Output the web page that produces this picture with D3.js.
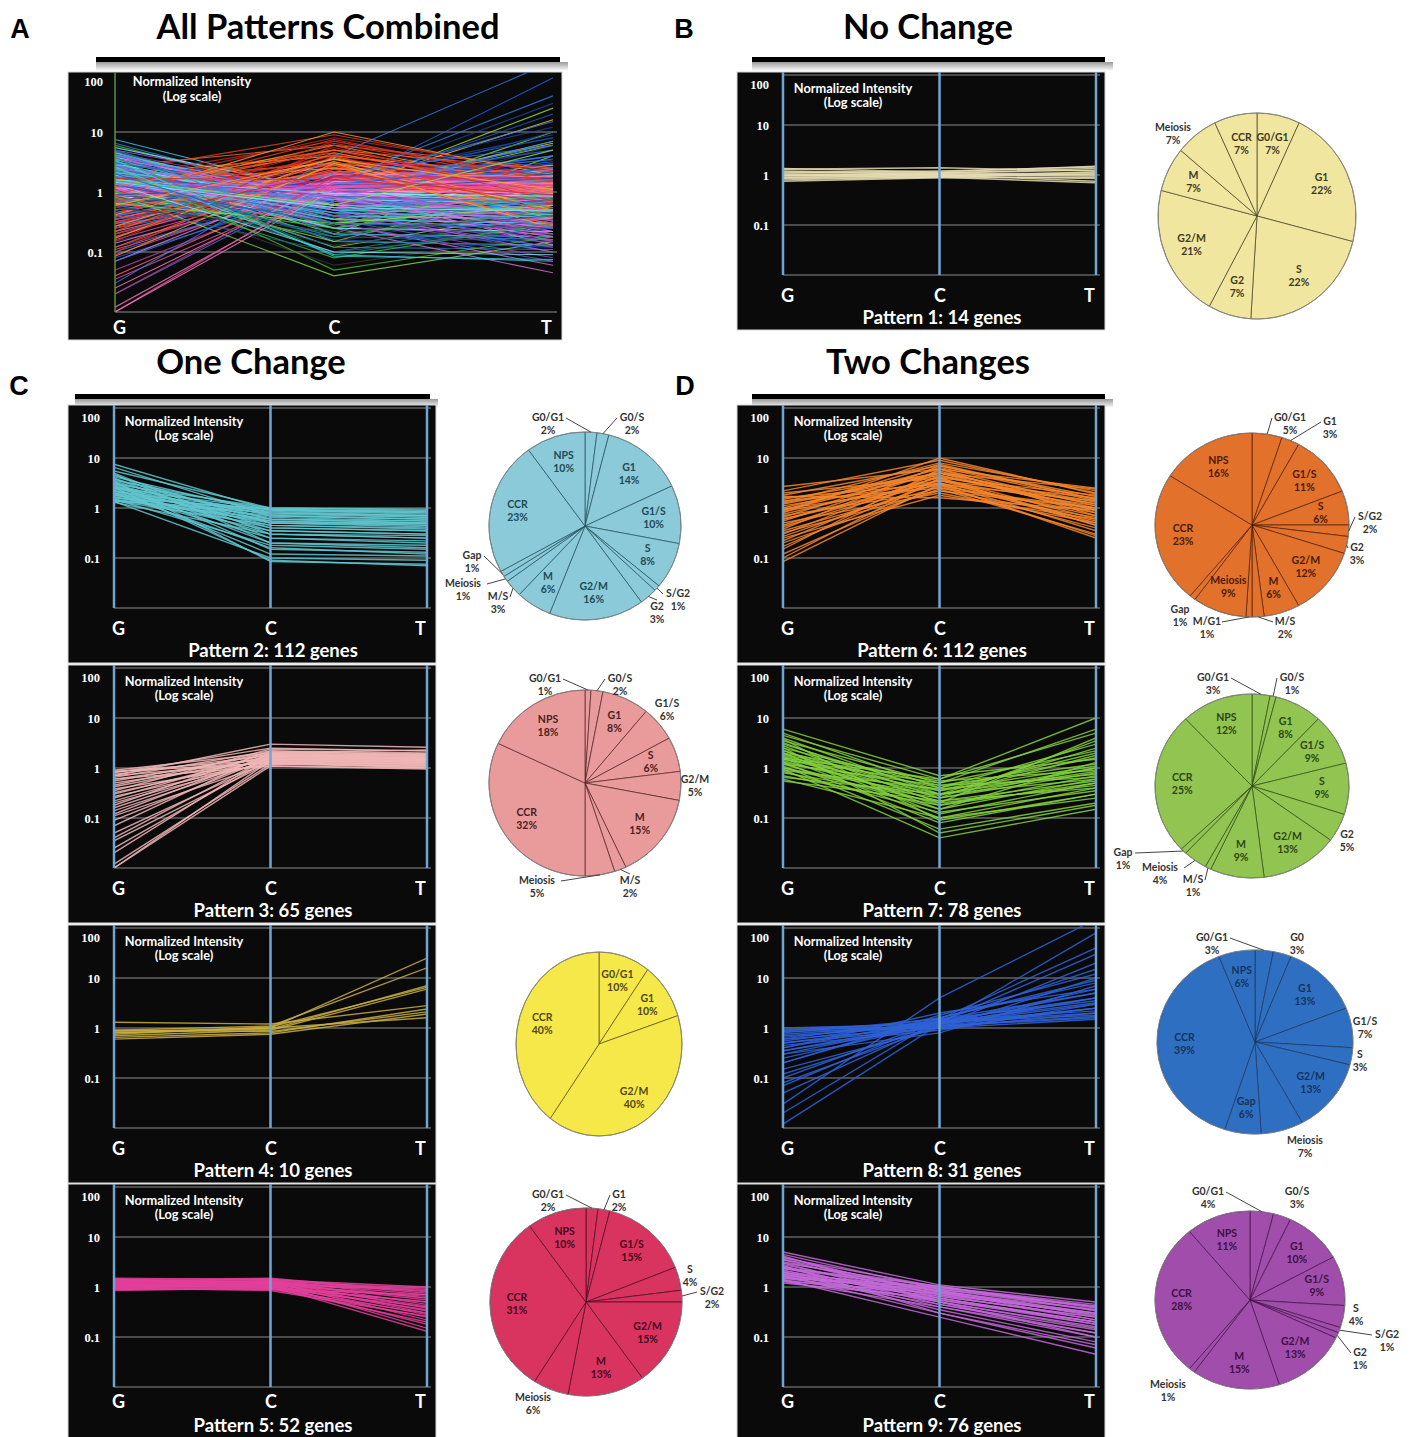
<!DOCTYPE html>
<html>
<head>
<meta charset="utf-8">
<script src="https://cdn.jsdelivr.net/npm/d3@7"></script>
<style>
  body { margin: 0; background: #fff; }
  svg { display: block; }
</style>
</head>
<body>
<svg id="figure" width="1412" height="1437"></svg>
<script>
// Conditions along the x axis
const stages = ['G', 'C', 'T']
// Log-scale tick labels on every profile
const intensityTicks = [100, 10, 1, 0.1]
// Genes in each pattern
const geneCounts = [14, 112, 65, 10, 52, 112, 78, 31, 76]

// Gene profiles, one [G, C, T] triple per drawn gene
const pattern1Genes = [
  [1.35, 1.15, 1.5], [1.3, 1.4, 1.2], [1.2, 1.1, 1.35], [1.15, 1.05, 1.1], [1.1, 1.2, 1.45],
  [1.05, 1.0, 0.95], [1.0, 1.1, 1.25], [0.98, 0.95, 0.85], [0.95, 1.05, 1.0], [0.9, 0.95, 1.15],
  [0.88, 1.0, 0.75], [0.85, 0.9, 0.7], [0.8, 0.92, 1.05], [0.75, 0.88, 0.9]
]
const pattern2Genes = [
  [7.5, 0.9, 0.85], [6.5, 0.7, 0.6], [5.5, 1.0, 0.95], [5.0, 0.3, 0.25], [4.5, 0.5, 0.45],
  [4.2, 0.8, 0.7], [4.0, 0.25, 0.2], [3.8, 0.6, 0.55], [3.6, 0.9, 0.8], [3.5, 0.4, 0.35],
  [3.3, 0.15, 0.13], [3.2, 0.7, 0.6], [3.0, 0.5, 0.5], [3.0, 1.0, 0.9], [2.9, 0.35, 0.3],
  [2.8, 0.2, 0.18], [2.7, 0.8, 0.7], [2.6, 0.6, 0.5], [2.5, 0.45, 0.4], [2.5, 0.95, 0.8],
  [2.4, 0.3, 0.28], [2.3, 0.12, 0.11], [2.2, 0.75, 0.65], [2.2, 0.55, 0.45], [2.1, 0.9, 0.75],
  [2.0, 0.4, 0.35], [2.0, 0.65, 0.55], [1.9, 0.25, 0.22], [1.8, 0.85, 0.7], [1.8, 0.5, 0.42],
  [1.7, 0.35, 0.3], [1.6, 0.7, 0.6], [1.6, 0.95, 0.85], [1.5, 0.18, 0.15], [1.5, 0.6, 0.5],
  [1.4, 0.45, 0.38], [1.4, 0.8, 0.65], [1.35, 0.1, 0.09], [1.3, 0.3, 0.25], [3.4, 0.085, 0.075],
  [2.6, 0.09, 0.07], [4.8, 0.2, 0.16], [1.45, 0.55, 0.48], [2.0, 0.16, 0.12]
]
const pattern3Genes = [
  [0.9, 2.0, 1.8], [0.85, 1.5, 1.4], [0.8, 2.5, 2.2], [0.75, 1.8, 1.6], [0.7, 1.3, 1.2],
  [0.65, 2.2, 2.0], [0.6, 1.6, 1.5], [0.55, 1.9, 1.7], [0.5, 1.4, 1.3], [0.45, 2.1, 1.9],
  [0.42, 1.7, 1.5], [0.38, 1.2, 1.1], [0.35, 2.4, 2.2], [0.32, 1.5, 1.6], [0.3, 1.8, 1.5],
  [0.27, 1.3, 1.0], [0.25, 2.0, 2.3], [0.22, 1.6, 1.4], [0.2, 1.4, 1.2], [0.18, 2.2, 1.8],
  [0.16, 1.7, 1.9], [0.14, 1.5, 1.3], [0.12, 1.9, 1.7], [0.11, 1.25, 1.1], [0.09, 1.6, 1.5],
  [0.07, 2.0, 1.8], [0.05, 1.4, 1.3], [0.04, 1.7, 1.6], [0.035, 1.3, 1.2], [0.025, 1.5, 1.4],
  [0.02, 1.8, 1.6], [0.012, 1.2, 1.05], [0.01, 1.4, 1.3], [0.01, 1.1, 0.95], [0.7, 3.0, 2.6],
  [0.6, 1.1, 1.0], [0.85, 1.25, 1.15]
]
const pattern4Genes = [
  [0.85, 1.0, 25], [0.9, 1.1, 16], [0.8, 0.95, 7], [0.75, 1.05, 6.5], [0.7, 0.9, 6],
  [1.3, 1.2, 2.8], [0.65, 0.8, 2.4], [0.9, 0.85, 2.1], [0.6, 0.75, 1.9], [0.8, 1.0, 1.6]
]
const pattern5Genes = [
  [1.5, 1.4, 1.0], [1.45, 1.2, 0.9], [1.4, 1.5, 0.8], [1.35, 1.3, 0.7], [1.3, 1.1, 0.65],
  [1.3, 1.4, 0.6], [1.25, 1.25, 0.55], [1.2, 1.0, 0.5], [1.2, 1.35, 0.45], [1.15, 1.15, 0.42],
  [1.1, 0.95, 0.4], [1.1, 1.3, 0.38], [1.05, 1.05, 0.35], [1.0, 1.2, 0.33], [1.0, 0.9, 0.3],
  [0.95, 1.1, 0.28], [0.95, 0.85, 0.26], [0.9, 1.0, 0.25], [0.9, 1.25, 0.22], [0.85, 0.95, 0.2],
  [1.25, 1.1, 0.18], [1.1, 1.2, 0.15], [1.0, 1.05, 0.13], [1.3, 1.45, 0.75], [1.4, 1.2, 0.6],
  [1.15, 1.0, 0.5], [1.2, 1.3, 0.95], [1.05, 1.15, 0.85], [0.9, 0.9, 0.7], [1.35, 1.25, 0.3]
]
const pattern6Genes = [
  [2.7, 6, 2.5], [2.2, 9, 2.0], [2.0, 4, 1.8], [1.8, 7, 1.5], [1.6, 3, 1.4],
  [1.5, 5, 1.2], [1.4, 2.5, 1.0], [1.3, 8, 2.2], [1.2, 4.5, 0.9], [1.1, 3.5, 1.6],
  [1.0, 6, 1.1], [0.95, 2.8, 0.8], [0.9, 5, 1.3], [0.85, 3.2, 0.7], [0.8, 10, 1.9],
  [0.75, 4, 0.6], [0.7, 2.2, 1.0], [0.65, 6.5, 1.4], [0.6, 3, 0.55], [0.55, 5.5, 0.9],
  [0.5, 2, 0.5], [0.45, 4.2, 1.2], [0.42, 3.6, 0.45], [0.38, 7, 1.7], [0.35, 2.6, 0.4],
  [0.3, 5, 0.8], [0.27, 3.2, 0.35], [0.25, 1.8, 0.6], [0.22, 4.5, 1.0], [0.2, 2.4, 0.3],
  [0.17, 3.8, 0.5], [0.15, 6, 0.7], [0.12, 2.8, 0.28], [0.1, 4, 0.45], [0.085, 3, 0.25],
  [1.7, 1.6, 0.9], [1.25, 5, 2.4], [0.9, 7.5, 1.5], [0.6, 3.5, 1.1], [0.32, 2.2, 0.65]
]
const pattern7Genes = [
  [6, 0.7, 1.5], [5, 0.4, 3], [4.5, 0.6, 10], [4, 0.3, 1.0], [3.5, 0.5, 6],
  [3.2, 0.25, 0.8], [3, 0.35, 2], [2.8, 0.2, 4], [2.5, 0.45, 1.2], [2.3, 0.15, 0.6],
  [2.2, 0.3, 2.5], [2, 0.55, 0.9], [2, 0.12, 0.5], [1.9, 0.4, 1.6], [1.8, 0.25, 3.5],
  [1.7, 0.18, 0.7], [1.6, 0.1, 0.4], [1.5, 0.35, 1.1], [1.5, 0.5, 2.2], [1.4, 0.22, 0.55],
  [1.3, 0.08, 0.3], [1.3, 0.3, 0.85], [1.2, 0.15, 1.3], [1.2, 0.45, 0.65], [1.1, 0.06, 0.2],
  [1.0, 0.28, 1.8], [1.0, 0.2, 0.45], [0.95, 0.04, 0.15], [0.9, 0.38, 0.75], [0.85, 0.13, 0.35],
  [0.8, 0.25, 1.0], [0.7, 0.18, 0.5], [0.65, 0.3, 0.6], [0.6, 0.1, 0.25], [0.55, 0.22, 0.4],
  [2.6, 0.05, 0.18], [3.8, 0.09, 0.3], [1.6, 0.6, 5]
]
const pattern8Genes = [
  [0.012, 1.2, 80], [0.02, 1.5, 40], [0.05, 1.3, 30], [0.08, 1.1, 20], [0.1, 1.4, 15],
  [0.15, 1.0, 10], [0.2, 1.6, 8], [0.25, 1.2, 6], [0.3, 1.3, 5], [0.35, 1.1, 4],
  [0.4, 1.5, 3.5], [0.45, 0.9, 3], [0.5, 1.2, 2.5], [0.55, 1.4, 2.2], [0.6, 1.0, 2],
  [0.65, 1.3, 1.8], [0.7, 1.1, 1.6], [0.75, 1.2, 3], [0.8, 1.5, 5], [0.85, 1.0, 2.5],
  [0.9, 1.3, 2], [1.0, 1.2, 4], [0.3, 0.8, 7], [0.2, 1.8, 12], [0.12, 1.1, 2.5],
  [0.4, 2.0, 6], [0.6, 1.6, 9], [0.5, 1.0, 1.5], [0.07, 1.4, 4], [0.9, 1.1, 1.7],
  [0.35, 1.3, 3.2], [0.03, 4, 150]
]
const pattern9Genes = [
  [5, 1.1, 0.5], [4.5, 0.9, 0.4], [4, 0.7, 0.3], [3.8, 1.0, 0.45], [3.5, 0.6, 0.2],
  [3.2, 0.8, 0.35], [3, 0.5, 0.15], [3, 1.0, 0.4], [2.8, 0.65, 0.25], [2.6, 0.45, 0.12],
  [2.5, 0.85, 0.3], [2.4, 0.55, 0.18], [2.3, 0.95, 0.42], [2.2, 0.4, 0.1], [2.1, 0.75, 0.28],
  [2, 0.6, 0.2], [2, 0.35, 0.08], [1.9, 0.9, 0.35], [1.8, 0.5, 0.16], [1.8, 0.7, 0.22],
  [1.7, 0.3, 0.06], [1.6, 0.8, 0.3], [1.6, 0.45, 0.14], [1.5, 0.65, 0.25], [1.5, 1.0, 0.38],
  [1.4, 0.55, 0.2], [1.4, 0.25, 0.045], [1.3, 0.75, 0.28], [1.3, 0.4, 0.12], [1.2, 0.6, 0.18],
  [4.2, 0.5, 0.1], [2.7, 0.3, 0.07], [3.6, 0.8, 0.22], [2.4, 1.05, 0.33], [1.7, 0.85, 0.26]
]

// Cell-cycle phase shares per pattern (%), clockwise from 12 o'clock
const pattern1Pie = [['G0/G1', 7], ['G1', 22], ['S', 22], ['G2', 7], ['G2/M', 21], ['M', 7], ['Meiosis', 7], ['CCR', 7]]
const pattern2Pie = [['G0/G1', 2], ['G0/S', 2], ['G1', 14], ['G1/S', 10], ['S', 8], ['S/G2', 1], ['G2', 3], ['G2/M', 16], ['M', 6], ['M/S', 3], ['Meiosis', 1], ['Gap', 1], ['CCR', 23], ['NPS', 10]]
const pattern3Pie = [['G0/G1', 1], ['G0/S', 2], ['G1', 8], ['G1/S', 6], ['S', 6], ['G2/M', 5], ['M', 15], ['M/S', 2], ['Meiosis', 5], ['CCR', 32], ['NPS', 18]]
const pattern4Pie = [['G0/G1', 10], ['G1', 10], ['G2/M', 40], ['CCR', 40]]
const pattern5Pie = [['G0/G1', 2], ['G1', 2], ['G1/S', 15], ['S', 4], ['S/G2', 2], ['G2/M', 15], ['M', 13], ['Meiosis', 6], ['CCR', 31], ['NPS', 10]]
const pattern6Pie = [['G0/G1', 5], ['G1', 3], ['G1/S', 11], ['S', 6], ['S/G2', 2], ['G2', 3], ['G2/M', 12], ['M', 6], ['M/S', 2], ['M/G1', 1], ['Meiosis', 9], ['Gap', 1], ['CCR', 23], ['NPS', 16]]
const pattern7Pie = [['G0/G1', 3], ['G0/S', 1], ['G1', 8], ['G1/S', 9], ['S', 9], ['G2', 5], ['G2/M', 13], ['M', 9], ['M/S', 1], ['Meiosis', 4], ['Gap', 1], ['CCR', 25], ['NPS', 12]]
const pattern8Pie = [['G0/G1', 3], ['G0', 3], ['G1', 13], ['G1/S', 7], ['S', 3], ['G2/M', 13], ['Meiosis', 7], ['Gap', 6], ['CCR', 39], ['NPS', 6]]
const pattern9Pie = [['G0/G1', 4], ['G0/S', 3], ['G1', 10], ['G1/S', 9], ['S', 4], ['S/G2', 1], ['G2', 1], ['G2/M', 13], ['M', 15], ['Meiosis', 1], ['CCR', 28], ['NPS', 11]]

const FONT = 'Lato, "Open Sans", sans-serif'
const svg = d3.select('#figure')

// Panel letters, titles and the rules under the titles
const letters = [['A', 20, 38], ['B', 684, 38], ['C', 19, 395], ['D', 685, 395]]
svg.selectAll('text.letter').data(letters).join('text')
  .attr('class', 'letter')
  .attr('x', d => d[1]).attr('y', d => d[2])
  .attr('text-anchor', 'middle')
  .attr('font-family', '"Liberation Sans", Arial, sans-serif')
  .attr('font-weight', 'bold').attr('font-size', 27)
  .text(d => d[0])

const titles = [['All Patterns Combined', 328, 39], ['No Change', 928, 39], ['One Change', 251, 374], ['Two Changes', 928, 374]]
svg.selectAll('text.title').data(titles).join('text')
  .attr('class', 'title')
  .attr('x', d => d[1]).attr('y', d => d[2])
  .attr('text-anchor', 'middle')
  .attr('font-family', FONT).attr('font-weight', 'bold').attr('font-size', 34.5)
  .text(d => d[0])

const rules = [[96, 560, 57], [752, 1105, 57], [75, 430, 394], [752, 1105, 394]]
const defs = svg.append('defs')
const shade = defs.append('linearGradient').attr('id', 'rule-shade').attr('x1', 0).attr('x2', 0).attr('y1', 0).attr('y2', 1)
shade.append('stop').attr('offset', 0).attr('stop-color', '#9a9a9a')
shade.append('stop').attr('offset', 1).attr('stop-color', '#ffffff')
rules.forEach(([x1, x2, y]) => {
  svg.append('rect').attr('x', x1).attr('y', y + 5).attr('width', x2 - x1 + 8).attr('height', 9).attr('fill', 'url(#rule-shade)')
  svg.append('rect').attr('x', x1).attr('y', y).attr('width', x2 - x1).attr('height', 5).attr('fill', '#000')
})

// Draw one black profile panel
function drawProfile(spec) {
  const g = svg.append('g').attr('transform', `translate(${spec.x},${spec.y})`)
  g.append('rect').attr('width', spec.w).attr('height', spec.h).attr('fill', '#0a0a0a')
    .attr('stroke', '#d8d8d8').attr('stroke-width', 1)

  const x = d3.scalePoint().domain(stages).range([spec.gX, spec.tX])
  const y = d3.scaleLog().domain([0.01, 100]).range([spec.yBottom, spec.yTop])

  // horizontal gridlines
  g.selectAll('line.grid').data(spec.grid).join('line')
    .attr('x1', spec.gX).attr('x2', spec.tX + 4)
    .attr('y1', d => y(d)).attr('y2', d => y(d))
    .attr('stroke', '#8c8c8c').attr('stroke-width', 1)

  // gene profiles, clipped to the plot area
  const clipId = 'clip-' + spec.key
  defs.append('clipPath').attr('id', clipId).append('rect')
    .attr('x', spec.gX).attr('y', 0).attr('width', spec.tX - spec.gX).attr('height', spec.yBottom)
  const line = d3.line().x((d, i) => x(stages[i])).y(d => y(d))
  g.append('g')
    .attr('clip-path', `url(#${clipId})`)
    .selectAll('path').data(spec.lines).join('path')
    .attr('d', d => line(d.values))
    .attr('fill', 'none')
    .attr('stroke', d => d.color)
    .attr('stroke-width', spec.lw)
    .attr('stroke-opacity', spec.op)

  // stage verticals
  g.selectAll('line.stage').data(spec.verticals).join('line')
    .attr('x1', d => x(d)).attr('x2', d => x(d))
    .attr('y1', 0).attr('y2', spec.yBottom)
    .attr('stroke', spec.vColor).attr('stroke-width', spec.vWidth)

  // y tick labels
  g.append('g')
    .attr('transform', `translate(${spec.tickX},0)`)
    .call(d3.axisLeft(y).tickValues(intensityTicks).tickFormat(d => String(d)).tickSize(0).tickPadding(0))
    .call(a => a.select('.domain').remove())
    .call(a => a.selectAll('.tick text')
      .attr('fill', '#fff')
      .attr('font-family', '"Liberation Serif", "DejaVu Serif", serif')
      .attr('font-weight', 'bold').attr('font-size', 12.5)
      .attr('dy', d => d === 100 ? spec.topDy : '0.35em'))

  // x stage labels
  g.append('g')
    .attr('transform', `translate(0,${spec.stageY})`)
    .call(d3.axisBottom(x).tickSize(0).tickPadding(0))
    .call(a => a.select('.domain').remove())
    .call(a => a.selectAll('.tick text')
      .attr('fill', '#fff')
      .attr('font-family', FONT).attr('font-weight', 'bold').attr('font-size', 18)
      .attr('dy', '0.35em')
      .attr('dx', d => d === 'G' ? 4 : d === 'T' ? -7 : 0))

  // axis note
  g.append('text')
    .attr('x', spec.noteX).attr('y', spec.noteY[0])
    .attr('text-anchor', 'middle').attr('dominant-baseline', 'middle')
    .attr('fill', '#fff').attr('font-family', FONT).attr('font-weight', 'bold').attr('font-size', 12.8)
    .text('Normalized Intensity')
  g.append('text')
    .attr('x', spec.noteX).attr('y', spec.noteY[1])
    .attr('text-anchor', 'middle').attr('dominant-baseline', 'middle')
    .attr('fill', '#fff').attr('font-family', FONT).attr('font-weight', 'bold').attr('font-size', 12.8)
    .text('(Log scale)')

  if (spec.title) {
    g.append('text')
      .attr('x', spec.titleX).attr('y', spec.titleY)
      .attr('text-anchor', 'middle').attr('dominant-baseline', 'middle')
      .attr('fill', '#fff').attr('font-family', FONT).attr('font-weight', 'bold').attr('font-size', 18.5)
      .text(spec.title)
  }
}

// Panel A: every pattern together, coloured line by line
const allPatterns = [pattern1Genes, pattern2Genes, pattern3Genes, pattern4Genes, pattern5Genes,
  pattern6Genes, pattern7Genes, pattern8Genes, pattern9Genes]
const comboPalettes = [
  ['#f5efb0', '#ffffff'],
  ['#40c8f0', '#2f8fd8', '#7fe6ff', '#1c5fb0', '#3ad0c0'],
  ['#f050a8', '#ff80c8', '#d03070', '#ff6070'],
  ['#a0e040', '#f0d040'],
  ['#e050d0', '#ff7ad8', '#c040a0'],
  ['#ff6a20', '#e8402a', '#ffa030', '#d02828'],
  ['#40c040', '#2a9060', '#90e050', '#206090', '#3a3a3a'],
  ['#2060d8', '#3a80f0', '#1848a0'],
  ['#b060f0', '#8a48c8', '#e070e0']
]
const comboLines = []
const longest = d3.max(allPatterns, p => p.length)
for (let i = 0; i < longest; i++) {
  allPatterns.forEach((genes, p) => {
    if (i < genes.length) {
      const pal = comboPalettes[p]
      comboLines.push({ values: genes[i], color: pal[i % pal.length] })
    }
  })
}

drawProfile({
  key: 'all', x: 68, y: 72, w: 494, h: 268,
  gX: 47, tX: 485, yTop: 0, yBottom: 240,
  grid: [10, 1, 0.1, 0.01], lines: comboLines, lw: 1.1, op: 0.8,
  verticals: ['G'], vColor: '#5f8f3a', vWidth: 1.5,
  tickX: 35, topDy: '1.1em', stageY: 256,
  noteX: 124, noteY: [11, 26]
})

// Pattern panels
const lineColors = ['#e6ddb2', '#62c6cf', '#f0b6b6', '#c9ae44', '#e2409a', '#f5862e', '#84d13f', '#2f62d6', '#c36ad8']
const profilePlaces = [[737, 72], [68, 405], [68, 665], [68, 925], [68, 1184], [737, 405], [737, 665], [737, 925], [737, 1184]]
allPatterns.forEach((genes, i) => {
  const bottomRow = profilePlaces[i][1] > 1100
  drawProfile({
    key: 'p' + (i + 1), x: profilePlaces[i][0], y: profilePlaces[i][1], w: 368, h: 258,
    gX: 46, tX: 359, yTop: 3, yBottom: 203,
    grid: [100, 10, 1, 0.1, 0.01],
    lines: genes.map(v => ({ values: v, color: lineColors[i] })), lw: 1.4, op: 0.85,
    verticals: stages, vColor: '#6fa6d4', vWidth: 2.5,
    tickX: 32, topDy: '1.05em', stageY: bottomRow ? 218 : 224,
    noteX: 116, noteY: [18, 32],
    title: `Pattern ${i + 1}: ${geneCounts[i]} genes`, titleX: 205, titleY: bottomRow ? 243 : 247
  })
})

// Pies
const allPies = [pattern1Pie, pattern2Pie, pattern3Pie, pattern4Pie, pattern5Pie, pattern6Pie, pattern7Pie, pattern8Pie, pattern9Pie]
const pieLook = [
  { cx: 1257, cy: 216, rx: 99, ry: 103, fill: '#f1e6a0', ink: '#3d3a1c' },
  { cx: 585, cy: 526, rx: 96, ry: 94, fill: '#8bcad8', ink: '#1d4b56' },
  { cx: 585, cy: 783, rx: 96, ry: 93, fill: '#e99b9b', ink: '#4b1e1e' },
  { cx: 599, cy: 1044, rx: 83, ry: 92, fill: '#f7e84a', ink: '#4f4716' },
  { cx: 586, cy: 1302, rx: 96, ry: 94, fill: '#d8345f', ink: '#45081b' },
  { cx: 1252, cy: 525, rx: 97, ry: 92, fill: '#e2712c', ink: '#4a1a04' },
  { cx: 1252, cy: 786, rx: 97, ry: 92, fill: '#92c452', ink: '#2b4610' },
  { cx: 1255, cy: 1042, rx: 98, ry: 92, fill: '#2f6fc2', ink: '#16335a' },
  { cx: 1250, cy: 1300, rx: 95, ry: 89, fill: '#a14dab', ink: '#3c1142' }
]
// Labels placed outside the pie: offset from centre and whether a leader line is drawn
const outsideSpots = [
  { 'Meiosis': [-84, -88, false] },
  { 'G0/G1': [-37, -108, true], 'G0/S': [47, -108, true], 'S/G2': [93, 68, true], 'G2': [72, 81, true], 'Gap': [-113, 30, true], 'Meiosis': [-122, 58, true], 'M/S': [-87, 71, true] },
  { 'G0/G1': [-40, -104, true], 'G0/S': [35, -104, true], 'G1/S': [82, -79, false], 'G2/M': [110, -3, false], 'Meiosis': [-48, 98, true], 'M/S': [45, 98, true] },
  {},
  { 'G0/G1': [-38, -107, true], 'G1': [33, -107, true], 'S': [104, -32, false], 'S/G2': [126, -10, true], 'Meiosis': [-53, 96, false] },
  { 'G0/G1': [38, -107, true], 'G1': [78, -103, true], 'S/G2': [118, -8, true], 'G2': [105, 23, true], 'Gap': [-72, 85, false], 'M/G1': [-45, 97, true], 'M/S': [33, 97, true] },
  { 'G0/G1': [-39, -108, true], 'G0/S': [40, -108, true], 'G2': [95, 49, false], 'Gap': [-129, 67, true], 'Meiosis': [-92, 82, true], 'M/S': [-59, 94, true] },
  { 'G0/G1': [-43, -104, true], 'G0': [42, -104, false], 'G1/S': [110, -20, false], 'S': [105, 13, false], 'Meiosis': [50, 99, false] },
  { 'G0/G1': [-42, -108, true], 'G0/S': [47, -108, false], 'S': [106, 9, false], 'S/G2': [137, 35, true], 'G2': [110, 53, true], 'Meiosis': [-82, 85, false] }
]

const pie = d3.pie().sort(null).value(d => d[1])
const arc = d3.arc().innerRadius(0).outerRadius(100)

allPies.forEach((slices, i) => {
  const look = pieLook[i]
  const spots = outsideSpots[i]
  const g = svg.append('g').attr('transform', `translate(${look.cx},${look.cy})`)
  const arcs = pie(slices)

  g.append('g')
    .attr('transform', `scale(${look.rx / 100},${look.ry / 100})`)
    .selectAll('path').data(arcs).join('path')
    .attr('d', arc)
    .attr('fill', look.fill)
    .attr('stroke', look.ink).attr('stroke-opacity', 0.75)
    .attr('stroke-width', 0.9).attr('vector-effect', 'non-scaling-stroke')
  g.append('ellipse').attr('rx', look.rx).attr('ry', look.ry)
    .attr('fill', 'none').attr('stroke', '#8a8a8a').attr('stroke-width', 0.8)

  arcs.forEach(a => {
    const name = a.data[0]
    const mid = (a.startAngle + a.endAngle) / 2
    const spot = spots[name]
    let lx, ly, color
    if (spot) {
      lx = spot[0]; ly = spot[1] + 6; color = '#333'
      if (spot[2]) {
        const ex = Math.sin(mid) * look.rx, ey = -Math.cos(mid) * look.ry
        const half = name.length * 3 + 3
        let tx, ty
        if (ex < lx - half) { tx = lx - half; ty = spot[1] }
        else if (ex > lx + half) { tx = lx + half; ty = spot[1] }
        else { tx = lx; ty = ey > spot[1] ? spot[1] + 19 : spot[1] - 7 }
        g.append('polyline')
          .attr('points', [[ex, ey], [tx, ty]].map(p => p.join(',')).join(' '))
          .attr('fill', 'none').attr('stroke', '#444').attr('stroke-width', 1)
      }
    } else {
      lx = Math.sin(mid) * look.rx * 0.72
      ly = -Math.cos(mid) * look.ry * 0.72
      color = look.ink
    }
    const t = g.append('text')
      .attr('text-anchor', 'middle')
      .attr('font-family', FONT).attr('font-weight', 'bold').attr('font-size', 10.5)
      .attr('fill', color)
    t.append('tspan').attr('x', lx).attr('y', ly - 3).text(name)
    t.append('tspan').attr('x', lx).attr('y', ly + 10).text(`${a.data[1]}%`)
  })
})
</script>
</body>
</html>
